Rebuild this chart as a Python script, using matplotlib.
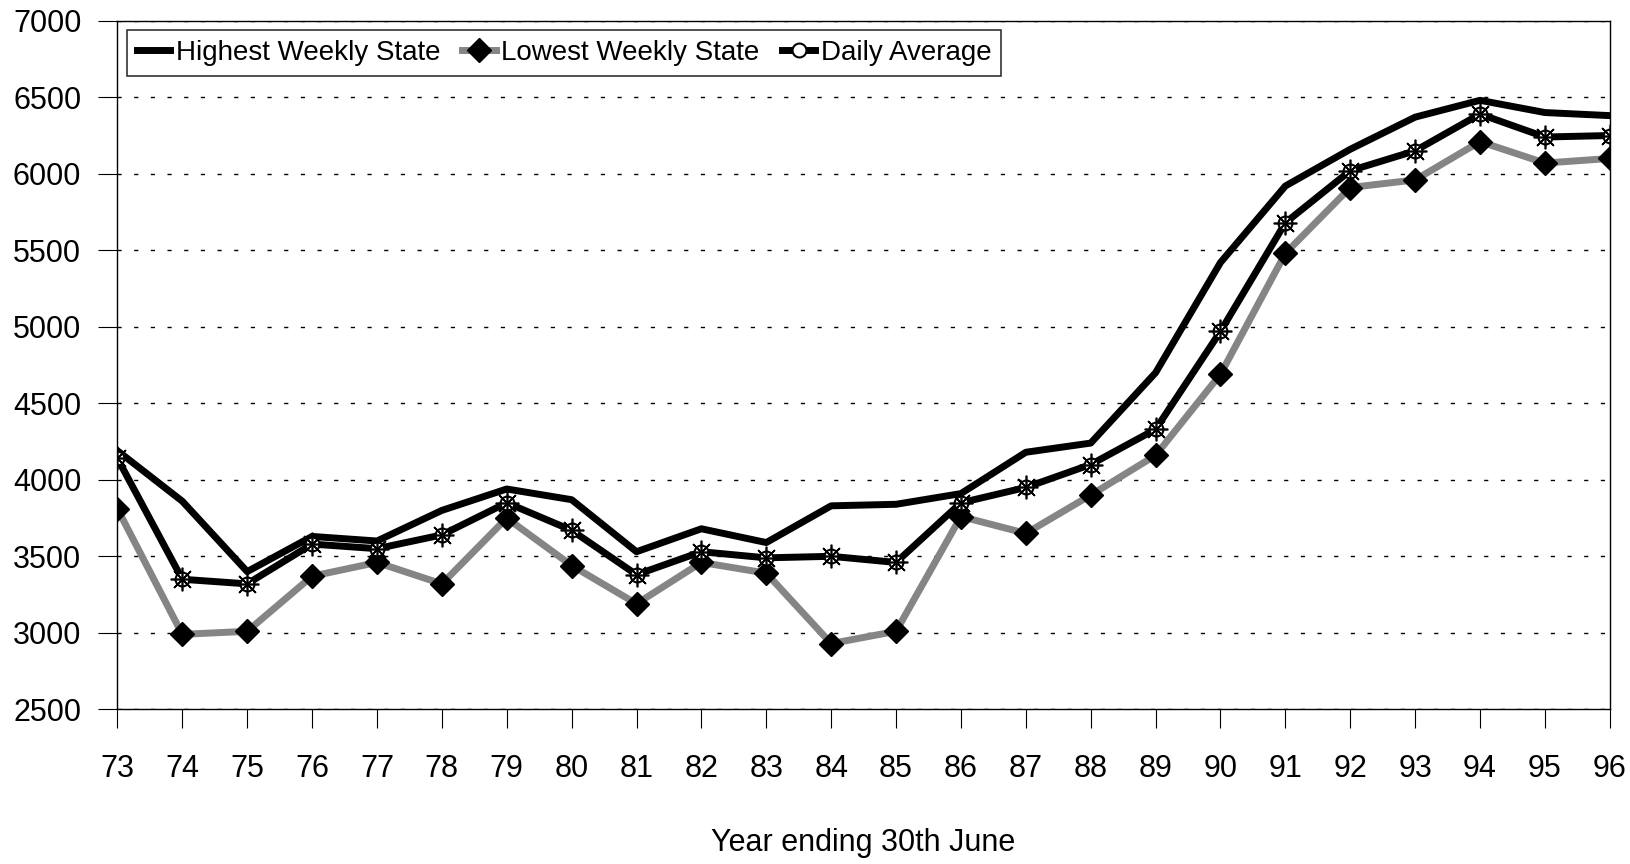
# Weekly state chart, 1973-1996
import matplotlib.pyplot as plt

plt.rcParams['font.family'] = ['Liberation Sans Narrow', 'Liberation Sans', 'DejaVu Sans']

years = ['73', '74', '75', '76', '77', '78', '79', '80', '81', '82', '83', '84',
         '85', '86', '87', '88', '89', '90', '91', '92', '93', '94', '95', '96']
highest = [4190, 3860, 3400, 3630, 3600, 3800, 3940, 3870, 3530, 3680, 3590, 3830,
           3840, 3910, 4180, 4240, 4700, 5420, 5920, 6160, 6370, 6480, 6400, 6380]
lowest = [3810, 2990, 3010, 3370, 3460, 3320, 3750, 3440, 3190, 3460, 3390, 2930,
          3010, 3760, 3650, 3900, 4160, 4690, 5480, 5910, 5960, 6210, 6070, 6100]
daily = [4140, 3350, 3320, 3580, 3550, 3640, 3850, 3670, 3380, 3530, 3490, 3500,
         3460, 3850, 3950, 4100, 4330, 4970, 5680, 6020, 6150, 6390, 6240, 6250]

x = list(range(len(years)))

fig = plt.figure(figsize=(16.31, 8.64), dpi=100)
ax = fig.add_axes([0.072, 0.179, 0.915, 0.797])

ax.plot(x, highest, color='black', lw=5, label='Highest Weekly State', zorder=3)
ax.plot(x, lowest, color='#858585', lw=5, marker='D', ms=12, mfc='black', mec='black',
        label='Lowest Weekly State', zorder=2)
ax.plot(x, daily, color='black', lw=5, marker='o', ms=10, mfc='white', mec='black', mew=1.5,
        zorder=4)
ax.plot(x, daily, color='none', marker=(8, 2, 0), ms=17, mec='black', mew=1.2, zorder=5)
ax.plot([], [], color='black', lw=5, marker='o', ms=10, mfc='white', mec='black', mew=1.5,
        label='Daily Average')

ax.set_xlim(0, len(years) - 1)
ax.set_ylim(2500, 7000)
ax.set_xticks(x)
ax.set_xticklabels(years)
ax.set_yticks(range(2500, 7001, 500))
ax.tick_params(axis='both', labelsize=22, direction='out', length=14, width=0.8)
ax.tick_params(axis='x', pad=18)
ax.tick_params(axis='y', pad=12)
ax.yaxis.grid(True, color='black', linestyle=(0, (3, 9)), lw=1)
for s in ax.spines.values():
    s.set_linewidth(1)

ax.set_xlabel('Year ending 30th June', fontsize=22, labelpad=32)

leg = ax.legend(loc='upper left', ncol=3, fontsize=20, frameon=True, fancybox=False,
                edgecolor='black', handlelength=1.2, handletextpad=0.2, columnspacing=0.8,
                borderaxespad=0.35, borderpad=0.35)
leg.get_frame().set_linewidth(1.2)

fig.savefig('out.png', dpi=100)
